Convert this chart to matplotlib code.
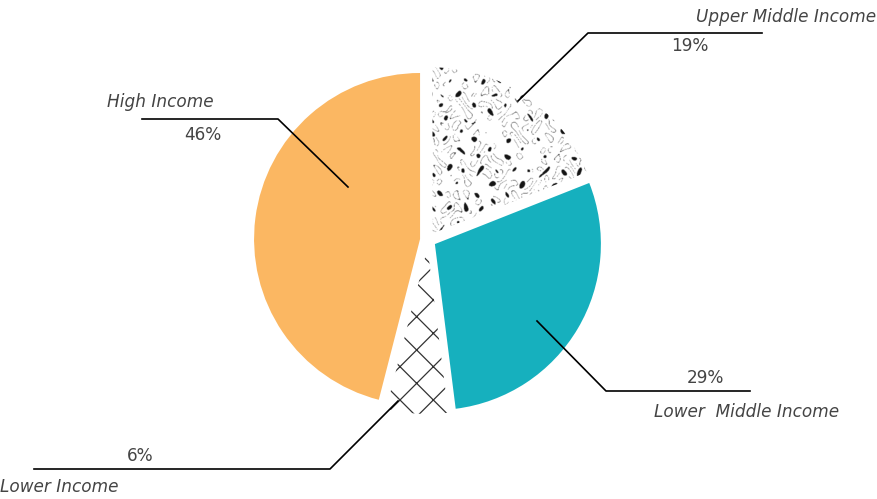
import numpy as np
import matplotlib.pyplot as plt

# income group shares (%)
groups = ["Upper Middle Income", "Lower  Middle Income", "Lower Income", "High Income"]
shares = [19, 29, 6, 46]
colors = ["white", "#16b0be", "white", "#fbb762"]
hatches = [None, None, "x", None]

plt.rcParams["hatch.linewidth"] = 0.9

fig = plt.figure(figsize=(8.78, 4.99), dpi=100)
ax = fig.add_axes([0, 0, 1, 1])

# work in pixel-like coordinates (y up)
H = 499
cx, cy, r = 428, H - 240, 166
wedges, _ = ax.pie(shares, startangle=90, counterclock=False, explode=[8] * 4,
                   colors=colors, center=(cx, cy), radius=r, frame=True,
                   wedgeprops=dict(linewidth=0))
for w, h in zip(wedges, hatches):
    if h:
        w.set_hatch(h)
        w.set_edgecolor("#333333")

# scribble texture for the upper middle slice (deterministic wavy pattern)
xs = np.arange(cx - 10, cx + r + 20, 0.5)
ys = np.arange(cy - 20, cy + r + 20, 0.5)
X, Y = np.meshgrid(xs, ys)
k = 0.7
f = (np.sin(k * 0.55 * X + 1.8 * np.sin(k * 0.21 * Y + 0.7 * np.sin(k * 0.13 * X)))
     + np.sin(k * 0.5 * Y + 1.9 * np.sin(k * 0.27 * X + 0.6 * np.sin(k * 0.17 * Y)))
     + 0.6 * np.sin(k * 0.33 * (X + Y)) * np.sin(k * 0.29 * (X - Y)))
g = (np.sin(0.31 * X + 2.2 * np.sin(0.19 * Y + 0.9 * np.sin(0.11 * X)))
     * np.sin(0.27 * Y + 2.0 * np.sin(0.23 * X)))
mask = ((np.abs(g - 0.35) < 0.05) & (f < 0.6)) | (f > 1.75)
tex = np.zeros(X.shape + (4,))
tex[..., :3] = 0.08
tex[..., 3] = mask.astype(float)
im = ax.imshow(tex, extent=(xs[0], xs[-1], ys[0], ys[-1]), origin="lower",
               interpolation="bilinear", zorder=3)
im.set_clip_path(wedges[0])

ax.set_xlim(0, 878)
ax.set_ylim(0, H)
ax.set_aspect("equal")
ax.axis("off")

# leader lines: (start point on slice, elbow, end of horizontal)
leaders = {
    "Upper Middle Income": [(518, 101), (588, 33), (762, 33)],
    "Lower  Middle Income": [(537, 321), (606, 391), (750, 391)],
    "Lower Income": [(398, 401), (330, 469), (34, 469)],
    "High Income": [(348, 187), (278, 119), (142, 119)],
}
# label positions: (name x, name y, name ha, pct x, pct y)
label_pos = {
    "Upper Middle Income": (876, 17, "right", 690, 46),
    "Lower  Middle Income": (654, 412, "left", 705, 378),
    "Lower Income": (0, 487, "left", 140, 456),
    "High Income": (107, 102, "left", 203, 135),
}

txt = dict(family="DejaVu Sans", fontsize=12.2, color="#444444", va="center")
for name, pct in zip(groups, shares):
    pts = leaders[name]
    ax.plot([p[0] for p in pts], [H - p[1] for p in pts], color="black", lw=1.2, zorder=4)
    nx, ny, ha, px, py = label_pos[name]
    ax.text(nx, H - ny, name, ha=ha, style="italic", **txt)
    ax.text(px, H - py, f"{pct}%", ha="center", **txt)

fig.savefig("out.png", dpi=100)
